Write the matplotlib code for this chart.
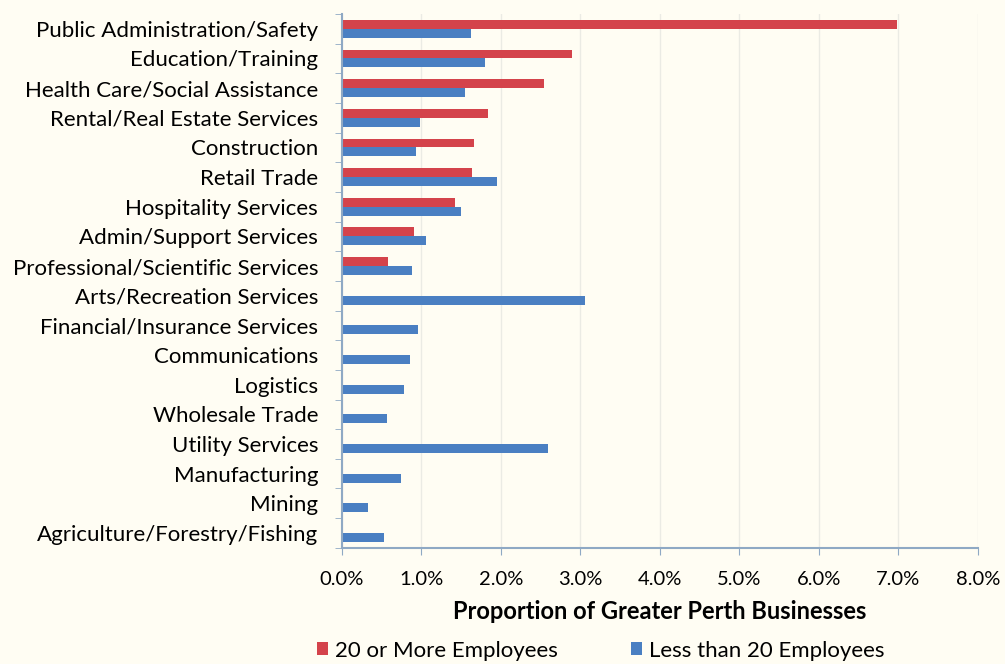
import matplotlib.pyplot as plt
import numpy as np

categories = ["Public Administration/Safety", "Education/Training", "Health Care/Social Assistance",
              "Rental/Real Estate Services", "Construction", "Retail Trade", "Hospitality Services",
              "Admin/Support Services", "Professional/Scientific Services", "Arts/Recreation Services",
              "Financial/Insurance Services", "Communications", "Logistics", "Wholesale Trade",
              "Utility Services", "Manufacturing", "Mining", "Agriculture/Forestry/Fishing"]
more_20 = [6.98, 2.89, 2.55, 1.84, 1.66, 1.64, 1.42, 0.91, 0.58, 0, 0, 0, 0, 0, 0, 0, 0, 0]
less_20 = [1.62, 1.80, 1.55, 0.99, 0.94, 1.95, 1.50, 1.06, 0.89, 3.06, 0.96, 0.86, 0.78, 0.57,
           2.60, 0.75, 0.33, 0.53]

plt.rcParams['font.family'] = ['Lato', 'DejaVu Sans']
bg = '#fffdf3'
red = '#d4434b'
blue = '#4a7fc2'

fig = plt.figure(figsize=(10.05, 6.64), dpi=100, facecolor=bg)
ax = fig.add_axes([0.340, 0.175, 0.633, 0.804], facecolor=bg)

y = np.arange(len(categories))
h = 0.3
ax.barh(y - h / 2, more_20, height=h, color=red, label='20 or More Employees')
ax.barh(y + h / 2, less_20, height=h, color=blue, label='Less than 20 Employees')

ax.set_ylim(len(categories) - 0.5, -0.5)
ax.set_xlim(0, 8)
ax.set_xticks(np.arange(0, 9))
ax.set_xticklabels(["%.1f%%" % v for v in range(9)], fontsize=14.5)
ax.set_yticks(y)
ax.set_yticklabels(categories, fontsize=16)
ax.tick_params(axis='y', length=0, pad=17)
ax.set_yticks(np.arange(-0.5, len(categories)), minor=True)
ax.tick_params(axis='y', which='minor', length=5, color='#8fa9c4')
ax.tick_params(axis='x', length=5, color='#8fa9c4', pad=12)
ax.grid(axis='x', color='#ebebe4', linewidth=1)
ax.set_axisbelow(True)
for s in ['top', 'right']:
    ax.spines[s].set_visible(False)
ax.spines['left'].set_color('#8fa9c4')
ax.spines['bottom'].set_color('#8fa9c4')
ax.spines['left'].set_linewidth(1.5)
ax.spines['bottom'].set_linewidth(1.5)

ax.set_xlabel("Proportion of Greater Perth Businesses", fontsize=17, fontweight='bold', labelpad=8)

fig.legend(loc='center', bbox_to_anchor=(0.598, 0.02), ncol=2, frameon=False, fontsize=16,
           handlelength=0.5, handleheight=0.5, columnspacing=3.3, handletextpad=0.3,
           borderpad=0, borderaxespad=0)

fig.savefig('out.png', dpi=100, facecolor=bg)
